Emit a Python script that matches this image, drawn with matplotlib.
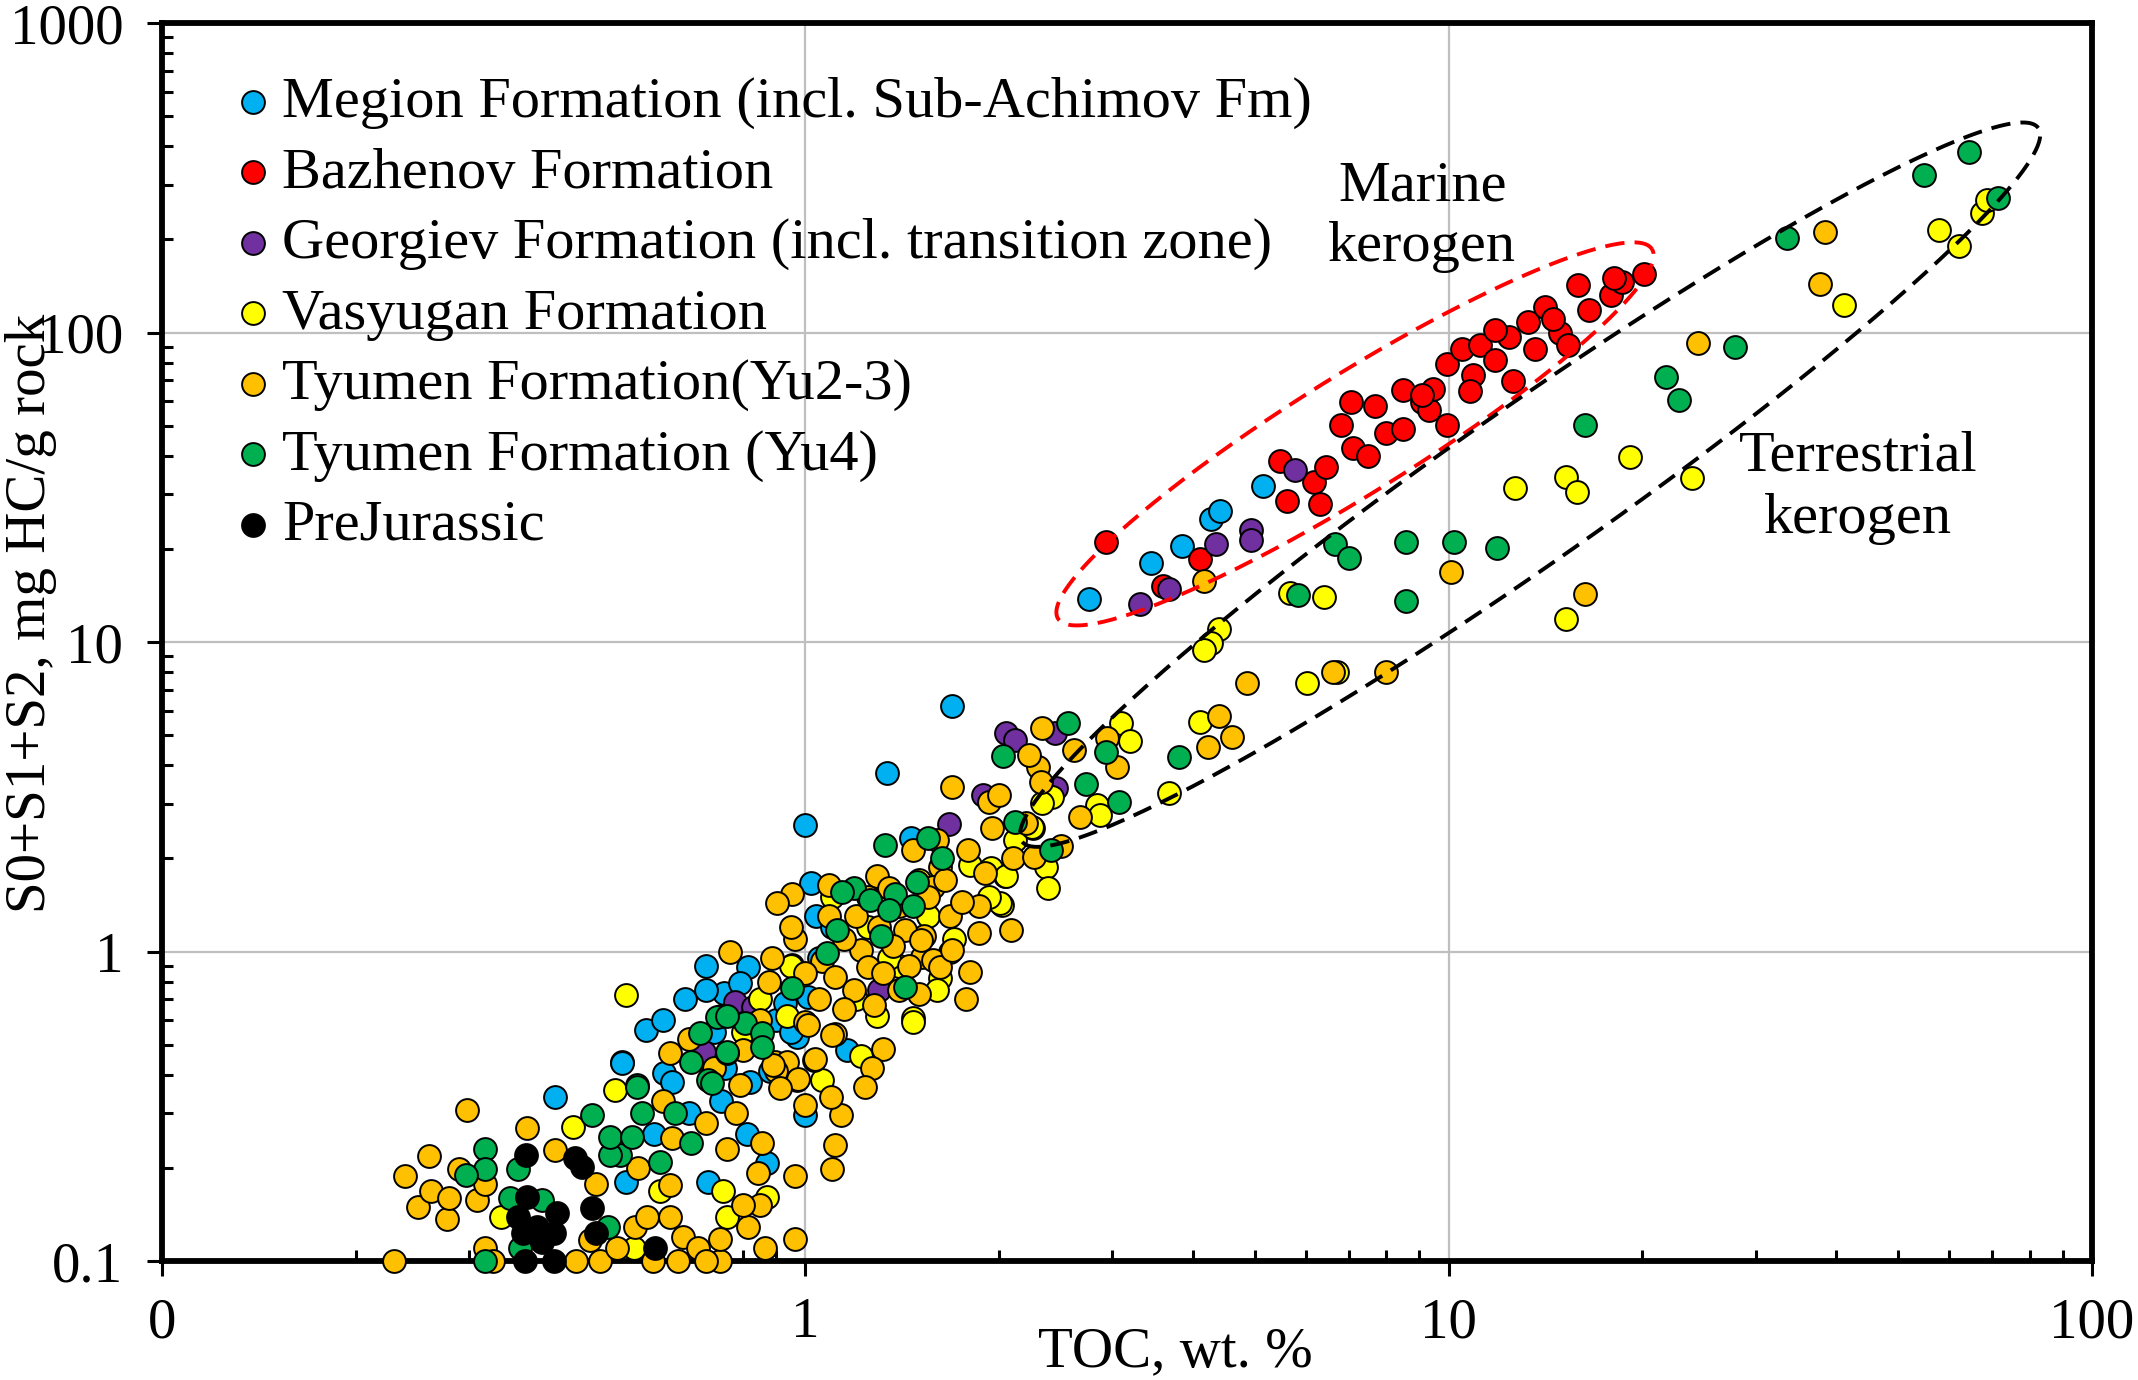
import numpy as np
import matplotlib
matplotlib.use("Agg")
import matplotlib.pyplot as plt
from matplotlib.ticker import LogLocator, FixedLocator, FixedFormatter, NullFormatter

plt.rcParams['font.family'] = ['Liberation Serif', 'DejaVu Serif']

# ---- data (TOC wt.%, S0+S1+S2 mg HC/g rock) ----
megion_toc = [2.76, 3.45, 3.85, 4.27, 4.41, 5.15, 1.69, 1.34, 1.0, 1.02, 1.04, 1.46, 0.815, 0.566,
              0.518, 1.16, 1.01, 0.746, 0.79, 1.0, 0.97, 0.408, 0.518, 0.527, 0.706, 0.871, 0.811,
              0.602, 0.581, 0.6, 0.65, 0.7, 0.72, 0.78, 0.85, 0.9, 0.68, 0.75, 0.82, 0.95, 0.62,
              0.66, 0.74, 0.88, 0.93, 0.7, 1.05, 1.1]
megion_s = [13.8, 18.0, 20.5, 25.0, 26.5, 31.9, 6.2, 3.77, 2.56, 1.66, 1.30, 2.32, 0.894, 0.557,
            0.44, 0.48, 0.715, 0.733, 0.792, 0.296, 0.53, 0.34, 0.435, 0.18, 0.18, 0.207, 0.258,
            0.404, 0.258, 0.6, 0.7, 0.75, 0.55, 0.65, 0.5, 0.6, 0.45, 0.42, 0.38, 0.55, 0.38,
            0.3, 0.33, 0.41, 0.68, 0.9, 0.95, 1.2]

bazhenov_toc = [2.93, 4.11, 3.6, 5.47, 6.18, 6.45, 5.61, 6.31, 6.79, 7.06, 7.67, 7.1, 7.48, 7.98,
                8.5, 8.5, 9.08, 9.33, 9.95, 9.45, 9.95, 10.5, 10.9, 11.2, 10.8, 11.8, 12.4, 12.6,
                13.3, 13.6, 14.1, 14.9, 15.3, 15.9, 16.5, 17.9, 18.6, 18.1, 20.1, 11.8, 14.5, 9.08]
bazhenov_s = [21.1, 18.5, 15.2, 38.4, 32.8, 36.9, 28.6, 28.0, 50.3, 59.6, 58.0, 42.4, 40.0, 47.5,
              48.8, 65.0, 59.6, 56.2, 50.2, 65.8, 79.2, 88.8, 72.7, 91.3, 64.9, 81.5, 96.6, 69.7,
              108, 88.8, 121, 99.4, 91.2, 142, 118, 132, 146, 150, 155, 102, 111, 63.0]

georgiev_toc = [3.31, 3.67, 4.35, 4.93, 4.93, 5.76, 2.05, 2.12, 2.44, 1.89, 1.67, 0.953, 0.778,
                0.83, 0.695, 2.45, 0.74, 1.3]
georgiev_s = [13.3, 14.8, 20.8, 23.0, 21.4, 35.9, 5.07, 4.82, 5.07, 3.2, 2.58, 0.904, 0.689,
              0.664, 0.475, 3.37, 0.62, 0.75]

vasyugan_toc = [4.39, 4.27, 4.16, 6.03, 6.7, 5.66, 6.4, 12.7, 15.2, 15.8, 19.1, 23.9, 15.2, 41.1,
                57.9, 62.1, 67.4, 68.7, 3.1, 3.2, 4.1, 3.68, 2.84, 2.87, 2.42, 2.33, 2.26, 2.12,
                2.37, 2.38, 2.04, 2.02, 0.527, 2.01, 1.93, 1.94, 2.25, 2.05, 1.62, 1.47, 1.29,
                1.22, 0.935, 0.506, 1.06, 1.47, 0.435, 0.594, 0.745, 0.755, 0.871, 0.337, 0.541,
                1.1, 1.25, 1.4, 1.55, 1.7, 1.8, 1.2, 0.85, 0.8, 1.5, 0.95, 1.35, 1.6]
vasyugan_s = [11.0, 9.9, 9.4, 7.4, 8.0, 14.4, 14.0, 31.4, 34.2, 30.5, 39.5, 33.9, 11.9, 123,
              214, 191, 244, 269, 5.46, 4.8, 5.53, 3.26, 2.97, 2.76, 3.16, 3.01, 2.5, 2.29,
              1.88, 1.6, 1.75, 1.41, 0.723, 1.43, 1.5, 1.86, 2.53, 1.75, 0.82, 0.61, 0.62,
              0.46, 0.62, 0.357, 0.385, 0.593, 0.272, 0.169, 0.169, 0.139, 0.161, 0.139, 0.11,
              1.5, 1.2, 0.9, 1.3, 1.1, 1.9, 0.7, 0.7, 0.55, 1.7, 0.9, 0.95, 0.75]

tyumen23_toc = [4.16, 10.1, 16.3, 24.4, 37.8, 38.4, 4.86, 6.62, 7.98, 4.4, 4.61, 4.23, 2.33, 2.62,
                2.94, 3.05, 2.3, 2.23, 2.32, 2.67, 2.1, 2.27, 2.09, 1.69, 1.93, 1.79, 1.86, 1.86,
                1.8, 1.78, 1.68, 1.68, 1.53, 1.52, 1.43, 1.47, 1.62, 1.58, 1.29, 1.09, 0.953,
                0.902, 1.09, 0.964, 0.764, 0.888, 0.877, 1.06, 1.11, 1.22, 1.25, 1.32, 1.37, 1.51,
                1.58, 1.62, 1.69, 1.50, 1.19, 1.28, 1.0, 1.11, 0.897, 0.935, 1.03, 1.32, 1.27,
                1.24, 0.97, 0.79, 0.90, 0.617, 0.964, 0.964, 1.10, 1.11, 1.135, 1.095, 1.0, 1.1,
                1.035, 0.975, 1.01, 0.229, 0.298, 0.369, 0.26, 0.239, 0.25, 0.262, 0.277, 0.279,
                0.289, 0.309, 0.318, 0.408, 0.473, 0.462, 0.48, 0.51, 0.544, 0.567, 0.616, 0.634,
                0.646, 0.682, 0.737, 0.737, 0.815, 0.85, 0.8, 0.865, 0.845, 0.855, 0.755, 0.318,
                0.327, 0.913, 0.891, 0.616, 0.44, 0.7, 0.58, 1.15, 1.2, 1.3, 1.4, 1.45, 1.35,
                1.55, 1.65, 1.75, 1.9, 1.25, 1.0, 0.95, 1.15, 1.4, 1.05, 0.85, 0.8, 0.72, 0.66,
                0.7, 0.78, 0.62, 0.55, 0.6, 1.95, 2.2, 2.5, 1.6, 2.0]
tyumen23_s = [15.7, 16.8, 14.3, 92.6, 144, 212, 7.36, 8.0, 8.0, 5.78, 4.95, 4.59, 5.26, 4.48,
              4.88, 3.96, 3.96, 4.31, 3.54, 2.73, 2.0, 2.02, 1.17, 3.39, 3.05, 2.13, 1.40, 1.15,
              0.86, 0.70, 1.30, 1.0, 1.12, 0.96, 1.17, 2.13, 1.88, 1.62, 1.75, 1.64, 1.54,
              1.43, 1.30, 1.10, 1.0, 0.95, 0.80, 0.93, 0.83, 1.01, 0.89, 0.85, 1.04, 1.09,
              0.94, 0.89, 1.01, 0.73, 0.75, 0.67, 0.59, 0.54, 0.44, 0.44, 0.446, 0.486, 0.42,
              0.366, 0.385, 0.37, 0.41, 0.469, 0.118, 0.188, 0.198, 0.237, 0.296, 0.338, 0.319,
              0.537, 0.449, 0.386, 0.58, 0.1, 0.308, 0.269, 0.218, 0.188, 0.15, 0.169, 0.137,
              0.16, 0.199, 0.157, 0.178, 0.229, 0.178, 0.117, 0.1, 0.11, 0.129, 0.139, 0.139,
              0.1, 0.12, 0.11, 0.1, 0.118, 0.129, 0.152, 0.152, 0.11, 0.192, 0.24, 0.231, 0.11,
              0.1, 0.361, 0.43, 0.176, 0.1, 0.1, 0.1, 1.1, 1.3, 1.2, 1.4, 0.9, 1.6,
              1.5, 1.7, 1.45, 1.8, 1.5, 0.85, 1.2, 0.65, 0.75, 0.7, 0.6, 0.48, 0.42, 0.52,
              0.28, 0.3, 0.25, 0.2, 0.33, 2.5, 2.6, 2.2, 2.3, 3.2]

tyumen4_toc = [5.84, 6.65, 7.0, 8.59, 8.59, 10.2, 11.9, 16.3, 21.8, 22.8, 27.9, 33.6, 54.8, 64.4,
               71.5, 2.56, 2.93, 2.73, 3.07, 3.81, 2.41, 2.12, 2.03, 1.33, 1.55, 1.63, 1.19, 1.14,
               1.26, 1.38, 1.49, 1.35, 1.47, 1.12, 1.31, 1.08, 1.43, 0.953, 0.755, 0.728, 0.686,
               0.805, 0.855, 0.665, 0.706, 0.547, 0.318, 0.318, 0.297, 0.358, 0.348, 0.318, 0.36,
               0.494, 0.515, 0.497, 0.466, 0.497, 0.537, 0.547, 0.557, 0.594, 0.627, 0.665, 0.755,
               0.755, 0.715, 0.855, 0.389]
tyumen4_s = [14.2, 20.8, 18.7, 21.1, 13.6, 21.1, 20.2, 50.2, 71.7, 60.4, 90, 202, 324, 384,
             273, 5.46, 4.42, 3.49, 3.05, 4.26, 2.13, 2.63, 4.27, 2.21, 2.32, 2.0, 1.6, 1.56,
             1.47, 1.54, 1.68, 1.36, 1.40, 1.17, 1.12, 0.99, 0.77, 0.76, 0.469, 0.616, 0.544,
             0.586, 0.544, 0.44, 0.385, 0.371, 0.231, 0.199, 0.19, 0.199, 0.16, 0.1, 0.11,
             0.129, 0.22, 0.22, 0.296, 0.252, 0.252, 0.366, 0.3, 0.209, 0.3, 0.24, 0.62,
             0.474, 0.375, 0.493, 0.157]

prejurassic_toc = [0.368, 0.438, 0.449, 0.369, 0.358, 0.382, 0.364, 0.406, 0.411, 0.466, 0.473,
                   0.367, 0.406, 0.583, 0.39]
prejurassic_s = [0.22, 0.215, 0.202, 0.161, 0.139, 0.129, 0.123, 0.123, 0.143, 0.148, 0.123,
                 0.1, 0.1, 0.11, 0.115]

series = [
    ("Megion Formation (incl. Sub-Achimov Fm)", megion_toc, megion_s, "#00B0F0"),
    ("Bazhenov Formation", bazhenov_toc, bazhenov_s, "#FF0000"),
    ("Georgiev Formation (incl. transition zone)", georgiev_toc, georgiev_s, "#7030A0"),
    ("Vasyugan Formation", vasyugan_toc, vasyugan_s, "#FFFF00"),
    ("Tyumen Formation(Yu2-3)", tyumen23_toc, tyumen23_s, "#FFC000"),
    ("Tyumen Formation (Yu4)", tyumen4_toc, tyumen4_s, "#00B050"),
    ("PreJurassic", prejurassic_toc, prejurassic_s, "#000000"),
]

# kerogen envelopes: lower-left tip, upper-right tip
marine_tips = [(2.47, 11.9), (20.7, 186)]
terrestrial_tips = [(2.17, 2.27), (82.5, 458)]

fig = plt.figure(figsize=(21.38, 13.8), dpi=100)
ax = fig.add_axes([0.0758, 0.0862, 0.9027, 0.8971])
ax.set_xscale('log')
ax.set_yscale('log')
ax.set_xlim(0.1, 100)
ax.set_ylim(0.1, 1000)

for i, (name, x, y, col) in enumerate(series):
    ax.scatter(x, y, s=270, c=col, edgecolors='black', linewidths=1.4,
               label=name, zorder=3 + i * 0.1, clip_on=False)


def envelope(tips, ratio, color):
    # ellipse drawn in screen space between the two tips
    p = ax.transData.transform(np.array(tips))
    c = p.mean(axis=0)
    d = p[1] - p[0]
    a = np.hypot(*d) / 2
    u = d / (2 * a)
    v = np.array([-u[1], u[0]])
    t = np.linspace(0, 2 * np.pi, 400)
    pts = c + np.outer(a * np.cos(t), u) + np.outer(a * ratio * np.sin(t), v)
    dat = ax.transData.inverted().transform(pts)
    ax.plot(dat[:, 0], dat[:, 1], color=color, lw=2.8, ls=(0, (5, 2.6)), zorder=4)


envelope(marine_tips, 0.17, '#FF0000')
envelope(terrestrial_tips, 0.124, 'black')

ax.text(9.1, 237, "Marine\nkerogen", fontsize=42, ha='center', va='center', linespacing=1.2, zorder=5)
ax.text(43.3, 31.5, "Terrestrial\nkerogen", fontsize=42, ha='center', va='center', linespacing=1.25, zorder=5)

# axes styling
ax.xaxis.set_major_locator(FixedLocator([0.1, 1, 10, 100]))
ax.xaxis.set_major_formatter(FixedFormatter(['0', '1', '10', '100']))
ax.yaxis.set_major_locator(FixedLocator([0.1, 1, 10, 100, 1000]))
ax.yaxis.set_major_formatter(FixedFormatter(['0.1', '1', '10', '100', '1000']))
for axis in (ax.xaxis, ax.yaxis):
    axis.set_minor_locator(LogLocator(base=10, subs=np.arange(2, 10)))
    axis.set_minor_formatter(NullFormatter())
ax.tick_params(which='major', direction='out', length=11, width=2.2, labelsize=41)
ax.tick_params(which='minor', direction='in', length=8, width=2.2)
ax.tick_params(axis='x', which='major', pad=15)
ax.tick_params(axis='y', which='major', pad=17)
ax.grid(True, which='major', color='#BFBFBF', lw=1.6, zorder=0)
ax.set_axisbelow(True)
for sp in ax.spines.values():
    sp.set_linewidth(4.2)

ax.set_xlabel("TOC, wt. %", fontsize=41)
ax.xaxis.set_label_coords(0.525, -0.074)
ax.xaxis.label.set_va('center')
ax.set_ylabel("S0+S1+S2, mg HC/g rock", fontsize=41)
ax.yaxis.set_label_coords(-0.068, 0.523)
ax.yaxis.label.set_va('center')

ax.legend(loc='upper left', bbox_to_anchor=(0.038, 0.957), frameon=False, fontsize=42,
          scatterpoints=1, handlelength=0.6, handletextpad=0.2, labelspacing=0.30,
          borderaxespad=0, borderpad=0)

fig.savefig("out.png", dpi=100)
